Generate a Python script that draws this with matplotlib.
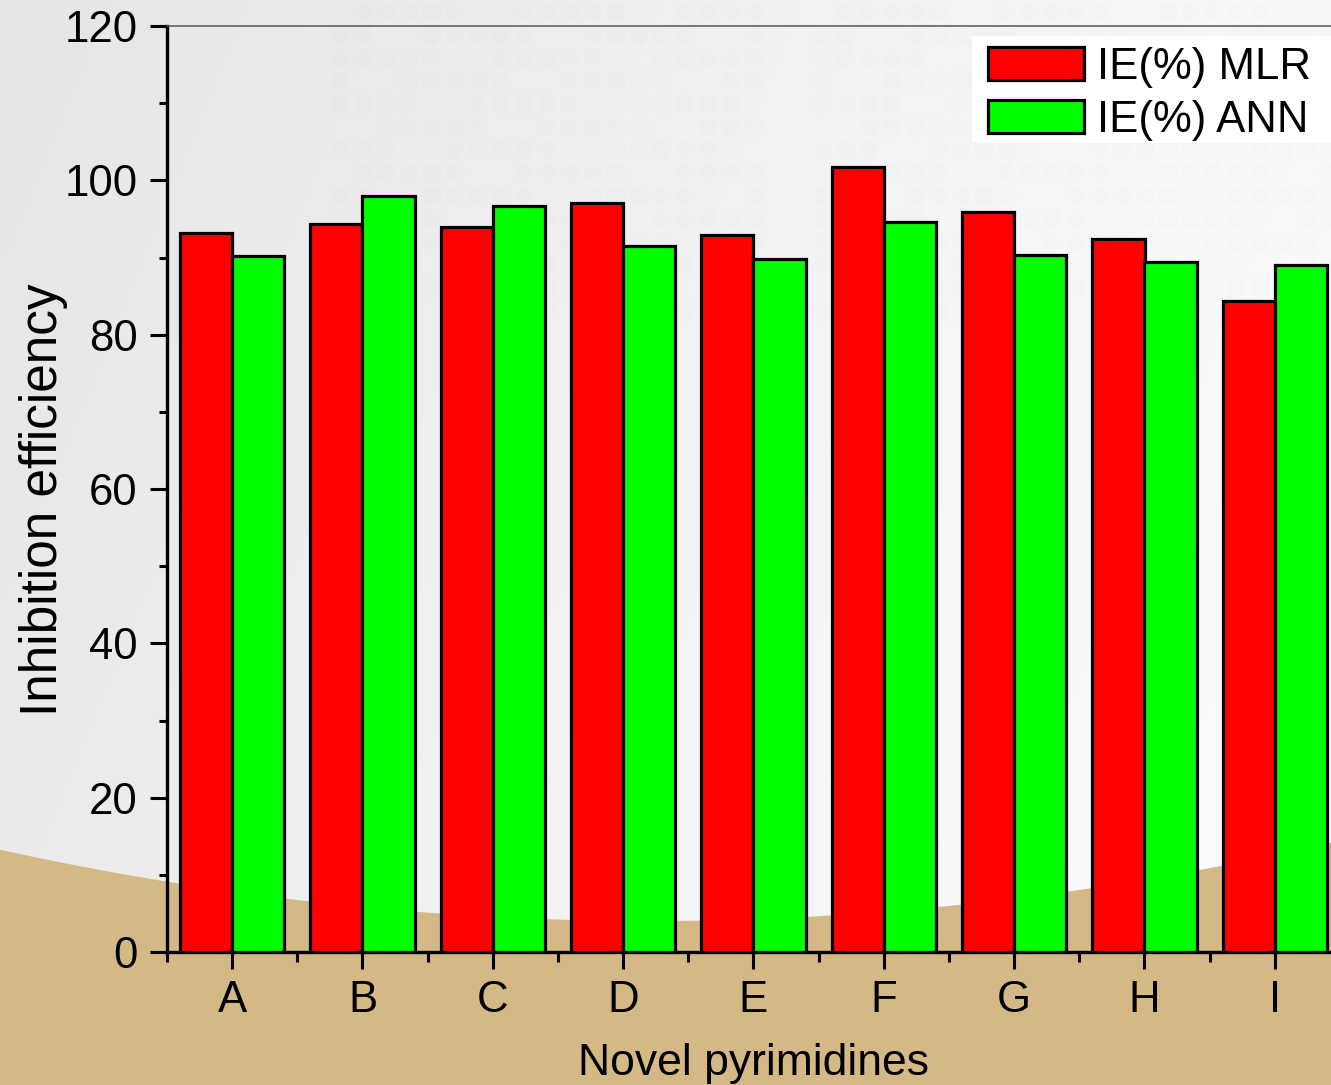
import numpy as np
import matplotlib
matplotlib.use("Agg")
import matplotlib.pyplot as plt
from matplotlib.patches import Rectangle, Circle
from matplotlib.ticker import MultipleLocator, FixedLocator

plt.rcParams["font.family"] = ["Liberation Sans", "DejaVu Sans"]

compounds = ["A", "B", "C", "D", "E", "F", "G", "H", "I"]
ie_mlr = [93.2, 94.3, 93.9, 97.1, 92.9, 101.7, 95.9, 92.4, 84.4]
ie_ann = [90.2, 98.0, 96.7, 91.5, 89.8, 94.6, 90.3, 89.4, 89.0]

W, H = 1331, 1085
fig = plt.figure(figsize=(W / 100, H / 100), dpi=100)

# Decorative backdrop: soft grey gradient, faint dot pattern, sand-coloured arc
bg = fig.add_axes([0, 0, 1, 1], zorder=-10)
bg.set_xlim(0, W)
bg.set_ylim(H, 0)
bg.axis("off")
xx, yy = np.meshgrid(np.linspace(0, 1, 300), np.linspace(0, 1, 240))
shade = 0.90 + 0.075 * xx + 0.025 * yy
shade = np.clip(shade, 0, 0.985)
bg.imshow(np.dstack([shade, shade, shade]), extent=[0, W, H, 0],
          aspect="auto", interpolation="bilinear")

step = 23
for row, y in enumerate(range(12, 330, step)):
    for col, x in enumerate(range(340, W + 20, step)):
        if (row * 5 + col * 3) % 7 in (0, 4):
            continue
        if 760 < x < 820:
            continue
        bg.add_patch(Circle((x, y), 9.5, color="black", alpha=0.009,
                            zorder=1, lw=0))

xs = np.linspace(-10, W + 10, 400)
curve = 921 - 78 * ((xs - 650) / 680.0) ** 2
bg.fill_between(xs, curve, H + 10, color="#d4b886", zorder=2, lw=0)

ax = fig.add_axes([167 / W, (H - 952) / H, (1340 - 167) / W, (952 - 26) / H])
ax.set_facecolor("none")

x = np.arange(1, len(compounds) + 1)
bw = 0.4
ax.bar(x - bw / 2, ie_mlr, width=bw, color="#ff0000", edgecolor="black",
       linewidth=2.3, label="IE(%) MLR", zorder=3)
ax.bar(x + bw / 2, ie_ann, width=bw, color="#00ff00", edgecolor="black",
       linewidth=2.3, label="IE(%) ANN", zorder=3)

ax.set_xlim(0.5, 9.5)
ax.set_ylim(0, 120)
ax.set_xticks(x)
ax.set_xticklabels(compounds)
ax.xaxis.set_minor_locator(FixedLocator(np.arange(0.5, 10, 1.0)))
ax.yaxis.set_major_locator(MultipleLocator(20))
ax.yaxis.set_minor_locator(MultipleLocator(10))

for side in ("left", "bottom"):
    ax.spines[side].set_linewidth(2.4)
    ax.spines[side].set_color("black")
ax.spines["top"].set_linewidth(1.1)
ax.spines["top"].set_color("#555555")
ax.spines["right"].set_visible(False)

ax.tick_params(axis="both", which="major", direction="out", length=12,
               width=2.2, labelsize=31.5, colors="black")
ax.tick_params(axis="y", which="minor", direction="out", length=6, width=2.2)
ax.tick_params(axis="x", which="minor", direction="out", length=7.5, width=2.2)
ax.tick_params(axis="y", which="major", pad=9)
ax.tick_params(axis="x", which="major", pad=8)

ax.set_xlabel("Novel pyrimidines", fontsize=32, va="baseline")
ax.xaxis.set_label_coords(0.5, (952 - 1075) / 926)
ax.set_ylabel("Inhibition efficiency", fontsize=37, va="baseline")
ax.yaxis.set_label_coords((57 - 167) / 1173, (952 - 500) / 926)

# white legend panel running to the right edge
ax.add_patch(Rectangle((972 / W, (H - 143) / H), (W - 972) / W + 0.01,
                       107 / H, transform=fig.transFigure, facecolor="white",
                       edgecolor="none", zorder=4, clip_on=False))
leg = ax.legend(loc="upper left", bbox_to_anchor=(979 / W, (H - 38) / H),
                bbox_transform=fig.transFigure, fontsize=31.5, frameon=False,
                handlelength=2.2, handleheight=0.8, labelspacing=0.27,
                borderpad=0.2, handletextpad=0.3, borderaxespad=0)
leg.set_zorder(5)

fig.savefig("out.png", dpi=100)
